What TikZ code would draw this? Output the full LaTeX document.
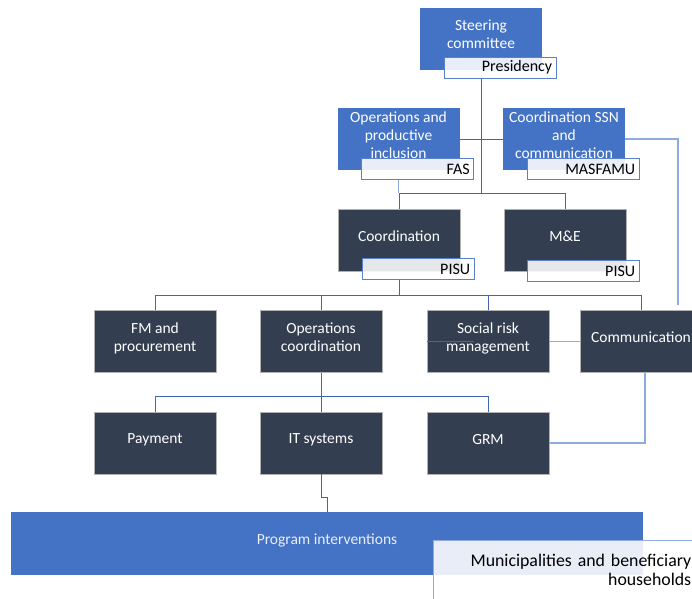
\documentclass[tikz,border=0pt]{standalone}
\usepackage{fontspec}
\setmainfont{Carlito}
\usetikzlibrary{positioning,calc}
\definecolor{unitBlue}{HTML}{4472C4}
\definecolor{unitDark}{HTML}{333F50}
\definecolor{treeLine}{HTML}{3F66B0}
\definecolor{sideLine}{HTML}{8FAADC}
\definecolor{tagLine}{HTML}{5A82CB}
\tikzset{
  unit box/.style={
    rectangle, minimum width=122pt, minimum height=62pt, inner sep=2pt,
    align=center, text=white, text depth=8pt,
    font=\fontsize{15.5}{18}\selectfont,
  },
  blue unit/.style={unit box, fill=unitBlue},
  dark unit/.style={unit box, fill=unitDark, draw=black!30, line width=0.5pt},
  tag box/.style={
    rectangle, anchor=north west, draw=tagLine, line width=0.8pt,
    fill=white, fill opacity=0.88, text opacity=1, text=black,
    minimum height=21pt, text width=104pt, inner xsep=4pt, inner ysep=0pt,
    align=right, font=\fontsize{16}{18}\selectfont,
  },
  tree line/.style={treeLine, line width=0.9pt},
  side line/.style={sideLine, line width=1.2pt},
}

\begin{document}
\begin{tikzpicture}[x=1pt, y=-1pt]

\useasboundingbox (0,0) rectangle (692,598);
\clip (0,0) rectangle (692,598);

% Top levels (blue units with their institution tags)
\node[blue unit] (steer) at (481,38.5) {Steering\\committee};
\node[tag box] (pres) at ($(steer.south west)+(24,-13)$) {Presidency};

\node[blue unit] (opsinc) at (398.5,139) {Operations and\\productive\\inclusion};
\node[tag box] (fas) at ($(opsinc.south west)+(24,-12)$) {FAS};

\node[blue unit] (ssn) at (564,139) {Coordination SSN\\and\\communication};
\node[tag box] (masfamu) at ($(ssn.south west)+(24,-12)$) {MASFAMU};

% Coordination level
\node[dark unit] (coord) at (399,240) {Coordination};
\node[tag box] (pisuA) at ($(coord.south west)+(24,-13)$) {PISU};

\node[dark unit] (mande) at (565,240) {M\&E};
\node[tag box] (pisuB) at ($(mande.south west)+(23,-11)$) {PISU};

% Technical units
\foreach \name/\x/\txt in {fm/155/{FM and\\procurement}, opsco/321/{Operations\\coordination},
  social/488/{Social risk\\management}, comm/641/{Communication}} {
  \node[dark unit] (\name) at (\x,341.5) {\txt};
}
\foreach \name/\x/\txt in {pay/155/{Payment}, itsys/321/{IT systems}, grm/488/{GRM}} {
  \node[dark unit] (\name) at (\x,443) {\txt};
}

% Program interventions bar
\node[blue unit, minimum width=632pt, minimum height=63pt, text=white!88!unitBlue]
  (prog) at (327,543.5) {Program interventions};
\node[tag box, draw=sideLine, minimum height=60pt, text width=252pt, inner xsep=6pt,
  font=\fontsize{17.8}{19}\selectfont]
  (munic) at ($(prog.north west)+(422,28)$) {Municipalities and beneficiary\\households};

% Bus levels
\coordinate (busA) at (0,193);
\coordinate (busB) at (0,295);
\coordinate (busC) at (0,396);

% Tree connectors
\draw[tree line] (steer.south |- pres.south) -- (steer.south |- busA);
\draw[tree line] (opsinc.east) -- (ssn.west);
\draw[side line, line width=1pt] (opsinc.south |- fas.south) -- (opsinc.south |- busA);
\draw[tree line] (coord.north) -- (coord.north |- busA) -- (mande.north |- busA) -- (mande.north);

\draw[tree line] (coord.south |- pisuA.south) -- (coord.south |- busB);
\draw[tree line] (fm.north) -- (fm.north |- busB) -- (comm.north |- busB) -- (comm.north);
\foreach \n in {opsco, social} {
  \draw[tree line] (\n.north) -- (\n.north |- busB);
}
\draw[tree line] (social.west) -- ++(47,0);

\draw[tree line] (opsco.south) -- (itsys.north);
\draw[tree line] (pay.north) -- (pay.north |- busC) -- (grm.north |- busC) -- (grm.north);
\draw[tree line] (itsys.south) -- ++(0,23) -| ($(itsys.south |- prog.north)+(6,0)$);

% Side links
\coordinate (commIn) at (678,305);
\draw[side line] (ssn.east) -| (commIn);
\draw[side line] (social.east) -- (comm.west);
\draw[side line] ($(comm.south)+(4,0)$) |- (grm.east);

\end{tikzpicture}
\end{document}
